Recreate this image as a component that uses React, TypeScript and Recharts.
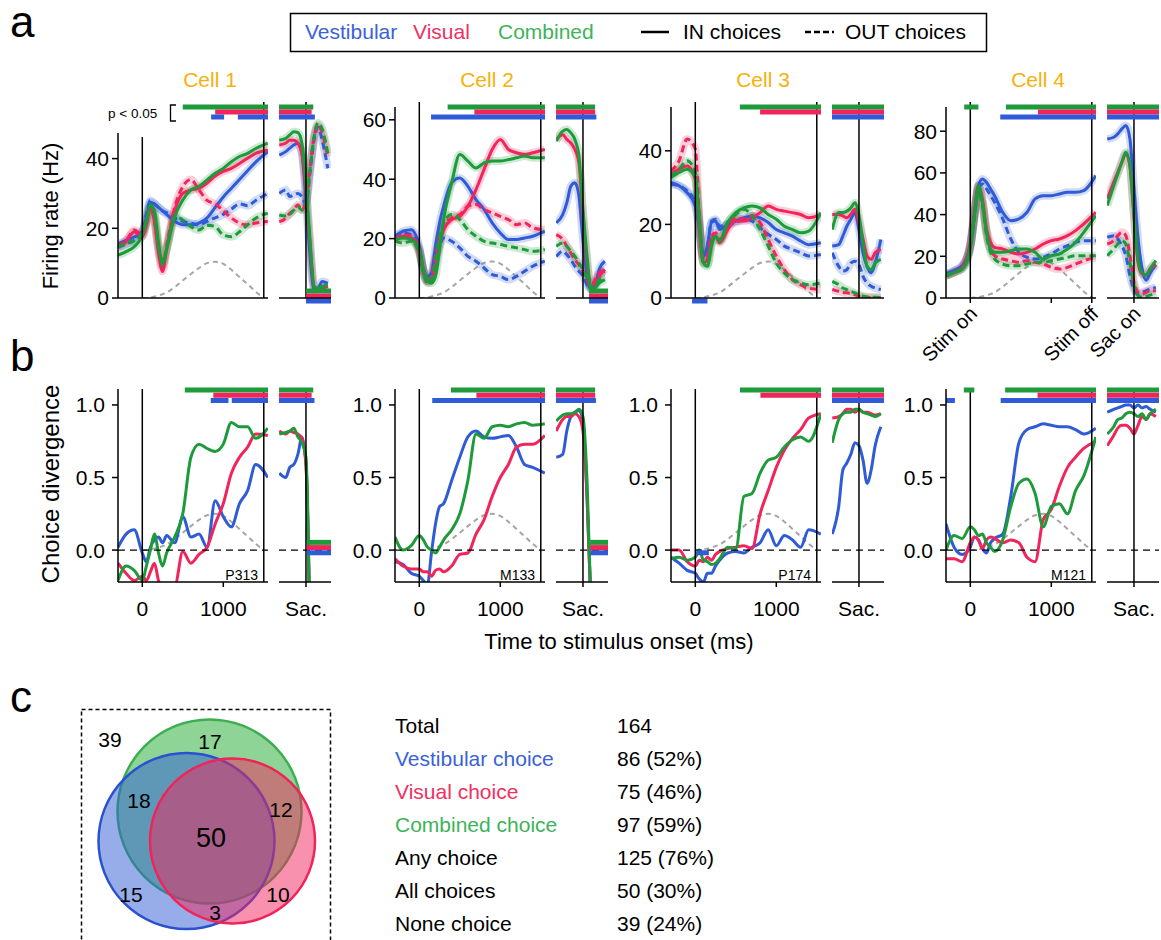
import React from 'react';
import { LineChart, Line, XAxis, YAxis, ReferenceLine, ReferenceDot, ComposedChart } from 'recharts';

const FONT = "'Liberation Sans', Arial, Helvetica, sans-serif";
const BLUE = '#2F5BD6';
const RED = '#F1245B';
const GREEN = '#1D9A3A';
const GRAY = '#A6A6A6';
const ORANGE = '#F6B10A';
const LEG_BLUE = '#3A62D8';
const LEG_RED = '#F0305F';
const LEG_GREEN = '#3DB35A';

// time grids (ms)
const stimT = [-300, -200, -100, 0, 50, 100, 150, 200, 250, 300, 400, 500, 600, 700, 800, 900, 1000, 1100, 1200, 1300, 1400, 1550];
const sacT = [-330, -250, -200, -150, -100, -50, 0, 50, 100, 150, 200, 270];
const velT = [0, 100, 200, 300, 400, 500, 600, 700, 800, 900, 1000, 1100, 1200, 1300, 1400, 1500];

// stimulus velocity profile (gray dashed), per cell in Hz and for panel b
const a1Vel = [0, 0.2, 0.7, 1.6, 3.1, 5, 6.9, 8.6, 10, 10.4, 9.8, 8.1, 6, 4, 1.8, 0];
const a2Vel = [0, 0.2, 0.9, 1.8, 3.7, 5.9, 8.1, 10.2, 11.8, 12.3, 11.6, 9.6, 7.1, 4.7, 2.1, 0];
const a3Vel = [0, 0.2, 0.7, 1.5, 3, 4.8, 6.5, 8.2, 9.5, 9.9, 9.3, 7.7, 5.7, 3.8, 1.7, 0];
const a4Vel = [0, 0.4, 1.3, 2.7, 5.4, 8.6, 11.9, 14.9, 17.3, 18, 16.9, 14, 10.4, 6.8, 3.1, 0];
const bVel = [0, 0.005, 0.018, 0.038, 0.075, 0.12, 0.165, 0.208, 0.24, 0.25, 0.235, 0.195, 0.145, 0.095, 0.043, 0];

// ---- panel a, cell 1 (firing rate, Hz)
const a1StimVesIn = [15.5, 16.5, 17.5, 19, 23, 27.5, 27, 26, 25, 24, 22, 21, 21, 21.5, 23, 26, 29, 31.5, 34, 36.5, 39, 42];
const a1StimVesOut = [14.5, 15.5, 16.5, 19, 24, 28, 27, 26, 25, 24.5, 23, 22, 21.5, 21, 22, 23, 24, 25.5, 27, 26.5, 28, 30];
const a1StimVisIn = [14.7, 16.2, 19, 17.6, 21, 26, 22, 13, 7.6, 14, 25, 30, 31, 31.5, 33, 35, 36.3, 37.2, 38.6, 40.1, 41.5, 42.5];
const a1StimVisOut = [15, 16.5, 19.5, 18, 21.5, 26, 22, 14, 9, 15, 26, 32, 34, 31, 28, 27, 25, 23, 21.5, 21, 21.5, 22];
const a1StimComIn = [12.3, 13.3, 14.7, 18, 22, 26.5, 25, 16, 9.5, 14, 23.3, 28.1, 31, 32, 33.9, 35.8, 37.2, 39.1, 40.6, 41.5, 42.9, 44.4];
const a1StimComOut = [14.7, 15.7, 16.6, 18.6, 22, 26.7, 24, 15, 10.9, 14, 23.3, 22.4, 20.5, 19.5, 20.9, 20.5, 18.1, 17.6, 19, 21, 22.9, 24.3];
const a1SacVesIn = [41, 42, 43, 43.9, 44.4, 41.5, 28, 11.9, 2.3, 2.8, 4.7, 4.2];
const a1SacVesOut = [30, 31, 29.1, 29.6, 30, 29.1, 27, 36, 45.3, 49, 45.3, 37.2];
const a1SacVisIn = [43.9, 44.4, 45.3, 45.3, 44.4, 41.5, 31, 15.7, 3.3, 2.5, 2.8, 3.3];
const a1SacVisOut = [21.9, 22.9, 24.3, 25.3, 26.7, 25.3, 28, 37.5, 46.3, 49.6, 47.3, 40.5];
const a1SacComIn = [45.3, 45.8, 46.8, 47.7, 47.5, 44.4, 32.9, 16.6, 3.3, 2.8, 3.3, 3.8];
const a1SacComOut = [23.8, 23.5, 24, 25.2, 26.2, 25.2, 27, 37, 46.3, 50.2, 48.5, 41.5];

// ---- panel a, cell 2
const a2StimVesIn = [20.8, 22.5, 23, 17.4, 9.6, 7.3, 8.4, 17.4, 25.3, 30.9, 38.8, 40.4, 37.6, 33.1, 29.8, 25.3, 21.9, 19.7, 19.7, 20.2, 20.8, 22.5];
const a2StimVesOut = [20.2, 21.9, 21.3, 16.3, 9, 5.6, 7.3, 12.9, 17.4, 20.2, 19.1, 16.9, 14, 12.4, 10.1, 7.9, 7.3, 6.2, 7.3, 9, 10.7, 12.4];
const a2StimVisIn = [19.1, 20.8, 20.2, 15.2, 9, 5.6, 6.2, 10.7, 18.5, 23, 26.4, 27.5, 30.9, 36.5, 43.3, 50, 53.4, 50, 48.9, 48.3, 48.9, 50];
const a2StimVisOut = [19.7, 21.3, 20.8, 16.3, 9.6, 5.6, 7.3, 14, 20.8, 24.2, 27, 28.1, 30.9, 31.5, 29.8, 28.7, 27.5, 26.4, 24.7, 25.3, 23.6, 23];
const a2StimComIn = [19.7, 20.2, 19.7, 16.3, 9.6, 6.2, 5, 7.3, 16.3, 26.4, 38.8, 48.3, 46.1, 43.8, 45.5, 46.1, 46.1, 46.6, 47.2, 47.8, 47.2, 47.2];
const a2StimComOut = [19.1, 18.5, 19.1, 15.2, 8.4, 5, 6.2, 12.9, 20.8, 25.3, 28.1, 26.4, 23, 20.8, 19.1, 18.5, 18, 17.4, 16.9, 16.3, 15.7, 16.3];
const a2SacVesIn = [25.3, 28.1, 32, 37.6, 38.8, 34.3, 19.7, 7.3, 2.8, 3.9, 9.6, 12.4];
const a2SacVesOut = [14, 15.7, 14.6, 12.9, 10.7, 9, 7.3, 4.5, 3.4, 5, 7.9, 9];
const a2SacVisIn = [53.4, 55, 53.4, 52.2, 50, 45.5, 27.5, 11.8, 3.9, 5, 7.3, 9.6];
const a2SacVisOut = [21.3, 19.7, 17.4, 15.2, 12.9, 11.2, 9, 6.2, 3.9, 6.2, 8.4, 9.6];
const a2SacComIn = [52.8, 56.2, 56.7, 55.6, 53.4, 47.8, 29.8, 14, 2.8, 3.4, 5, 6.2];
const a2SacComOut = [17.4, 18.5, 17.4, 15.7, 14, 11.8, 9.6, 6.7, 3.9, 4.5, 6.2, 7.3];

// ---- panel a, cell 3
const a3StimVesIn = [31.4, 30.5, 28.6, 25, 18.6, 11.4, 14.1, 20.5, 20.9, 18.6, 20, 20.9, 21.8, 22.3, 21.8, 20.5, 18.6, 17.7, 16.8, 15.5, 14.5, 15];
const a3StimVesOut = [30.9, 30.5, 29.1, 25.9, 19.5, 11.4, 14.1, 20.9, 21.4, 19.5, 20, 20.5, 21.4, 20.9, 19.1, 17.3, 15.9, 14.1, 13.2, 12.3, 11.4, 11.8];
const a3StimVisIn = [33.6, 35, 35.9, 32.3, 18.6, 9.5, 10.5, 15.9, 16.8, 15, 18.6, 20.9, 20.9, 21.8, 23.2, 25, 24.1, 23.6, 23.2, 22.7, 21.8, 22.7];
const a3StimVisOut = [34.5, 37.3, 43.2, 40.5, 22.3, 10.5, 11.4, 16.8, 17.7, 15.9, 19.5, 21.8, 21.4, 22.3, 20.5, 15.9, 11.4, 7.7, 5, 3.6, 2.7, 2.3];
const a3StimComIn = [32.7, 34.1, 35, 32.7, 20.5, 9.5, 8.6, 14.1, 16.8, 15.5, 20.5, 23.2, 24.5, 25, 24.5, 22.7, 21.4, 19.5, 18.6, 17.7, 18.2, 23.2];
const a3StimComOut = [33.2, 35, 37.3, 34.1, 20.5, 9.5, 9.1, 15, 16.8, 15.5, 20.5, 22.7, 24.1, 22.3, 18.6, 14.1, 9.5, 6.8, 5, 4.1, 3.6, 4.1];
const a3SacVesIn = [14.1, 14.5, 16.8, 19.5, 21.4, 23.2, 18.6, 12.3, 8.6, 6.8, 9.5, 15.9];
const a3SacVesOut = [12.3, 8.6, 7.3, 7.7, 9.5, 10, 9.1, 5.9, 4.1, 3.2, 2.7, 2.3];
const a3SacVisIn = [22.7, 22.7, 22.3, 21.8, 22.7, 24.1, 20.5, 15.9, 11.4, 10.5, 12.3, 13.2];
const a3SacVisOut = [2.3, 1.8, 1.5, 1.4, 1.2, 0.9, 0.5, 0.3, 0.1, 0.1, 0.1, 0.1];
const a3SacComIn = [18.6, 23.2, 23.2, 23.6, 24.5, 25.9, 22.3, 15, 8.6, 7.7, 9.5, 10.5];
const a3SacComOut = [4.5, 3.6, 2.7, 2.3, 1.8, 1.4, 0.9, 0.5, 0.3, 0.2, 0.2, 0.1];

// ---- panel a, cell 4
const a4StimVesIn = [11.5, 13.1, 15.5, 25, 39.5, 53.9, 57.1, 55.5, 52.3, 49.1, 41.1, 37.1, 37.9, 41.1, 47.5, 49.1, 49.1, 49.9, 50.7, 50.7, 51.5, 58.7];
const a4StimVesOut = [11.5, 13.1, 15.5, 25, 39.5, 53.1, 54.7, 52.3, 49.1, 45.9, 37.9, 28.3, 21.9, 19.5, 18.7, 19.5, 21.1, 23.5, 25.1, 26.7, 27.5, 27.5];
const a4StimVisIn = [10.7, 12.3, 14.7, 26.7, 41.1, 53.9, 47.5, 33.1, 26.7, 24.3, 23.5, 21.9, 21.1, 21.9, 23.5, 25.9, 27.5, 28.3, 29.9, 32.3, 35.5, 41.1];
const a4StimVisOut = [10.7, 12.3, 14.7, 25, 39.5, 52.3, 45.9, 31.5, 23.5, 20.3, 18.7, 17.9, 17.1, 17.9, 17.1, 16.3, 14.7, 13.9, 14.7, 16.3, 17.9, 19.5];
const a4StimComIn = [10.7, 12.3, 13.9, 25, 39.5, 53.9, 45.9, 31.5, 23.5, 21.9, 21.9, 22.7, 23.5, 23.5, 21.9, 18.7, 20.3, 21.1, 23.5, 26.7, 31.5, 39.5];
const a4StimComOut = [10.7, 12.3, 13.9, 23.5, 38, 50.7, 44.3, 29.9, 21.9, 18.7, 16.3, 15.5, 15.5, 16.3, 17.1, 17.1, 17.9, 18.7, 19.5, 20.3, 20.3, 20.3];
const a4SacVesIn = [76.3, 77.1, 78.7, 81.1, 82.7, 76.3, 52.3, 28.3, 14, 8.5, 12, 16];
const a4SacVesOut = [29.1, 29.9, 28.3, 25.1, 20.3, 10.7, 4.3, 1.9, 2.7, 3.5, 4.3, 5.1];
const a4SacVisIn = [47.5, 55.5, 60.3, 65.1, 69.1, 63.5, 39.5, 17.1, 11.5, 11, 14, 16];
const a4SacVisOut = [25.9, 27.5, 29.9, 31.5, 29.9, 20.3, 7.5, 2.7, 1.9, 2.7, 3.5, 3.5];
const a4SacComIn = [44.3, 53.9, 59.5, 65.1, 69.9, 63.5, 39.5, 18.7, 12, 11, 14, 17.9];
const a4SacComOut = [20.3, 23.5, 25.9, 27.5, 25.9, 17.1, 5.9, 1.1, 0.3, 0.8, 1.4, 2.4];

// ---- panel b (choice divergence)
const b1Ves = [0.02, 0.11, 0.14, -0.02, -0.08, 0.02, 0.07, 0.09, 0.05, 0.1, 0.05, 0.23, 0.09, 0.11, 0.02, 0.34, 0.23, 0.16, 0.32, 0.41, 0.59, 0.5];
const b1Vis = [-0.09, -0.16, -0.21, -0.18, -0.21, -0.15, -0.09, -0.21, -0.25, -0.25, -0.25, -0.01, -0.09, -0.03, 0.02, 0.18, 0.32, 0.53, 0.64, 0.71, 0.8, 0.79];
const b1Com = [-0.21, -0.11, -0.14, -0.21, -0.11, 0, 0.11, -0.02, -0.11, -0.02, 0.09, 0.25, 0.64, 0.73, 0.7, 0.68, 0.73, 0.88, 0.85, 0.85, 0.77, 0.84];
const b1SacVes = [0.53, 0.5, 0.57, 0.59, 0.66, 0.78, 0.6, -0.6, null, null, null, null];
const b1SacVis = [0.82, 0.8, 0.82, 0.81, 0.8, 0.77, 0.58, -0.6, null, null, null, null];
const b1SacCom = [0.8, 0.81, 0.82, 0.84, 0.78, 0.74, 0.64, -0.6, null, null, null, null];

const b2Ves = [-0.08, -0.1, -0.16, -0.18, -0.21, -0.24, -0.02, 0.18, 0.3, 0.32, 0.48, 0.64, 0.78, 0.82, 0.78, 0.77, 0.78, 0.79, 0.71, 0.59, 0.57, 0.53];
const b2Vis = [-0.06, -0.11, -0.13, -0.13, -0.15, -0.15, -0.18, -0.14, -0.13, -0.15, -0.11, -0.03, -0.02, 0.11, 0.21, 0.37, 0.5, 0.59, 0.71, 0.73, 0.73, 0.79];
const b2Com = [0.09, 0, 0.03, 0.1, 0.07, 0.02, 0, -0.02, 0.02, 0.07, 0.14, 0.25, 0.48, 0.8, 0.77, 0.85, 0.86, 0.85, 0.87, 0.88, 0.86, 0.87];
const b2SacVes = [0.64, 0.66, 0.82, 0.92, 0.95, 0.96, 0.89, 0.37, -0.4, null, null, null];
const b2SacVis = [0.82, 0.9, 0.92, 0.92, 0.94, 0.92, 0.82, 0.37, -0.4, null, null, null];
const b2SacCom = [0.89, 0.93, 0.94, 0.94, 0.95, 0.97, 0.92, 0.48, -0.4, null, null, null];

const b3Ves = [-0.05, -0.09, -0.14, -0.16, -0.2, -0.22, -0.16, -0.16, -0.11, -0.07, -0.02, -0.01, -0.02, 0.02, 0.05, 0.14, 0.03, 0.1, 0.07, 0.02, 0.14, 0.11];
const b3Vis = [0, 0, -0.08, -0.11, -0.07, -0.08, -0.05, -0.07, -0.03, -0.01, 0.01, 0.02, 0.03, 0.01, 0.25, 0.41, 0.57, 0.69, 0.77, 0.83, 0.91, 0.94];
const b3Com = [-0.06, -0.05, -0.07, -0.05, 0, -0.07, -0.08, -0.1, -0.09, -0.06, 0.02, 0.01, 0.37, 0.39, 0.53, 0.62, 0.64, 0.71, 0.76, 0.78, 0.75, 0.94];
const b3SacVes = [0.11, 0.3, 0.55, 0.6, 0.66, 0.74, 0.72, 0.62, 0.46, 0.55, 0.72, 0.85];
const b3SacVis = [0.91, 0.92, 0.94, 0.97, 0.97, 0.95, 0.97, 0.95, 0.95, 0.94, 0.93, 0.94];
const b3SacCom = [0.74, 0.9, 0.94, 0.95, 0.95, 0.97, 0.97, 0.95, 0.94, 0.93, 0.92, 0.94];

const b4Ves = [0.18, 0.02, -0.03, 0.02, 0.09, 0.07, 0.01, -0.02, 0.05, 0.08, 0.11, 0.37, 0.74, 0.83, 0.85, 0.87, 0.86, 0.85, 0.85, 0.83, 0.8, 0.84];
const b4Vis = [-0.06, -0.06, -0.08, 0.05, 0.09, 0.07, 0.01, 0.07, 0.09, 0.08, 0.05, 0.07, 0.05, -0.05, -0.08, 0.21, 0.28, 0.44, 0.57, 0.64, 0.7, 0.75];
const b4Com = [0, 0.1, 0.08, 0.16, 0.14, 0.1, 0.11, 0.05, 0.02, -0.01, 0.07, 0.3, 0.46, 0.49, 0.39, 0.16, 0.3, 0.32, 0.25, 0.41, 0.51, 0.78];
const b4SacVes = [0.95, 0.97, 0.98, 0.99, 1, 1, 0.98, 1, 0.98, 0.99, 0.97, 0.95];
const b4SacVis = [0.72, 0.79, 0.84, 0.86, 0.86, 0.84, 0.8, 0.86, 0.92, 0.9, 0.94, 0.92];
const b4SacCom = [0.8, 0.85, 0.9, 0.91, 0.94, 0.95, 0.94, 0.92, 0.94, 0.9, 0.94, 0.97];

// significance bars: [condition, from ms, to ms]
type Key = 'com' | 'vis' | 'ves';
type Sig = [Key, number, number];
const a1StimSig: Sig[] = [['com', 500, 1552], ['vis', 900, 1552], ['ves', 850, 1010], ['ves', 1180, 1552]];
const a1SacSig: Sig[] = [['com', -333, 90], ['vis', -333, 70], ['ves', -333, 110]];
const a1SacLow: Sig[] = [['com', 0, 309], ['vis', 0, 309], ['ves', 0, 309]];
const a2StimSig: Sig[] = [['com', 350, 1552], ['vis', 680, 1552], ['ves', 145, 1552]];
const a2SacSig: Sig[] = [['com', -333, 150], ['vis', -333, 150], ['ves', -333, 165]];
const a2SacLow: Sig[] = [['com', 75, 309], ['vis', 75, 309], ['ves', 75, 309]];
const a3StimSig: Sig[] = [['com', 550, 1552], ['vis', 800, 1552]];
const a3StimLow: Sig[] = [['ves', -40, 150]];
const a3SacSig: Sig[] = [['com', -333, 309], ['vis', -333, 309], ['ves', -333, 309]];
const a4StimSig: Sig[] = [['com', -75, 100], ['com', 440, 1552], ['vis', 835, 1552], ['ves', 370, 1552]];
const a4SacSig: Sig[] = [['com', -333, 309], ['vis', -333, 309], ['ves', -333, 309]];

const b1StimSig: Sig[] = [['com', 525, 1552], ['vis', 877, 1552], ['ves', 845, 1064], ['ves', 1105, 1552]];
const b1SacSig: Sig[] = [['com', -333, 90], ['vis', -333, 70], ['ves', -333, 105]];
const b1SacLow: Sig[] = [['com', 10, 309], ['vis', 10, 309], ['ves', 10, 309]];
const b2StimSig: Sig[] = [['com', 390, 1552], ['vis', 705, 1552], ['ves', 160, 1552]];
const b2SacSig: Sig[] = [['com', -333, 150], ['vis', -333, 150], ['ves', -333, 160]];
const b2SacLow: Sig[] = [['com', 90, 309], ['vis', 90, 309], ['ves', 90, 309]];
const b3StimSig: Sig[] = [['com', 552, 1552], ['vis', 804, 1552]];
const b3StimLow: Sig[] = [['ves', 13, 168]];
const b3SacSig: Sig[] = [['com', -333, 309], ['vis', -333, 309], ['ves', -333, 309]];
const b4StimSig: Sig[] = [['com', -80, 50], ['com', 430, 1552], ['vis', 830, 1552], ['ves', -300, -190], ['ves', 375, 1552]];
const b4SacSig: Sig[] = [['com', -333, 309], ['vis', -333, 309], ['ves', -333, 309]];

const cellNames = ['Cell 1', 'Cell 2', 'Cell 3', 'Cell 4'];
const cellIds = ['P313', 'M133', 'P174', 'M121'];

// panel c
const vennCounts = [39, 17, 18, 12, 50, 15, 10, 3];
const tableLabels = ['Total', 'Vestibular choice', 'Visual choice', 'Combined choice', 'Any choice', 'All choices', 'None choice'];
const tableCounts = [164, 86, 75, 97, 125, 50, 39];
const tablePct = [null, 52, 46, 59, 76, 30, 24];

// ---------------- layout
const COL: Record<Key, string> = { com: GREEN, vis: RED, ves: BLUE };
const LEVEL: Record<Key, number> = { com: 0, vis: 1, ves: 2 };
const CELL_X = [118, 395, 671, 946];
const STIM_W = 150;
const SAC_OFF = 161;
const SAC_W = 52;
const STIM_DOM: [number, number] = [-300, 1552];
const SAC_DOM: [number, number] = [-333, 309];
const A_TOP = 102;
const A_BOT = 298;
const A_SIG = [107, 112, 117];
const A_LOW = [-7, -2, 3];
const B_TOP = 389;
const B_BOT = 582;
const B_DOM: [number, number] = [-0.22, 1.11];
const B_SIG = [390, 395.3, 400.5];
const B_LOW = [-7.7, -2.5, 2.7];

type Pt = { t: number; v: number | null };
const pts = (ts: number[], vs: (number | null)[]): Pt[] => ts.map((t, i) => ({ t, v: vs[i] }));

interface Curve { data: Pt[]; color: string; w: number; op?: number; dash?: string }
interface Seg { x1: number; y1: number; x2: number; y2: number; color: string; w: number; dash?: string }

const aCells = [
  { ppu: 3.485, yTicks: [0, 20, 40], axisTop: 133, onTop: 137, vel: a1Vel,
    stim: { ves: [a1StimVesIn, a1StimVesOut], vis: [a1StimVisIn, a1StimVisOut], com: [a1StimComIn, a1StimComOut] },
    sac: { ves: [a1SacVesIn, a1SacVesOut], vis: [a1SacVisIn, a1SacVisOut], com: [a1SacComIn, a1SacComOut] },
    stimSig: a1StimSig, stimLow: [] as Sig[], sacSig: a1SacSig, sacLow: a1SacLow },
  { ppu: 2.97, yTicks: [0, 20, 40, 60], axisTop: 107, onTop: A_TOP, vel: a2Vel,
    stim: { ves: [a2StimVesIn, a2StimVesOut], vis: [a2StimVisIn, a2StimVisOut], com: [a2StimComIn, a2StimComOut] },
    sac: { ves: [a2SacVesIn, a2SacVesOut], vis: [a2SacVisIn, a2SacVisOut], com: [a2SacComIn, a2SacComOut] },
    stimSig: a2StimSig, stimLow: [] as Sig[], sacSig: a2SacSig, sacLow: a2SacLow },
  { ppu: 3.68, yTicks: [0, 20, 40], axisTop: 107, onTop: A_TOP, vel: a3Vel,
    stim: { ves: [a3StimVesIn, a3StimVesOut], vis: [a3StimVisIn, a3StimVisOut], com: [a3StimComIn, a3StimComOut] },
    sac: { ves: [a3SacVesIn, a3SacVesOut], vis: [a3SacVisIn, a3SacVisOut], com: [a3SacComIn, a3SacComOut] },
    stimSig: a3StimSig, stimLow: a3StimLow, sacSig: a3SacSig, sacLow: [] as Sig[] },
  { ppu: 2.085, yTicks: [0, 20, 40, 60, 80], axisTop: 107, onTop: A_TOP, vel: a4Vel,
    stim: { ves: [a4StimVesIn, a4StimVesOut], vis: [a4StimVisIn, a4StimVisOut], com: [a4StimComIn, a4StimComOut] },
    sac: { ves: [a4SacVesIn, a4SacVesOut], vis: [a4SacVisIn, a4SacVisOut], com: [a4SacComIn, a4SacComOut] },
    stimSig: a4StimSig, stimLow: [] as Sig[], sacSig: a4SacSig, sacLow: [] as Sig[] },
];

const bCells = [
  { stim: { ves: b1Ves, vis: b1Vis, com: b1Com }, sac: { ves: b1SacVes, vis: b1SacVis, com: b1SacCom }, stimSig: b1StimSig, stimLow: [] as Sig[], sacSig: b1SacSig, sacLow: b1SacLow },
  { stim: { ves: b2Ves, vis: b2Vis, com: b2Com }, sac: { ves: b2SacVes, vis: b2SacVis, com: b2SacCom }, stimSig: b2StimSig, stimLow: [] as Sig[], sacSig: b2SacSig, sacLow: b2SacLow },
  { stim: { ves: b3Ves, vis: b3Vis, com: b3Com }, sac: { ves: b3SacVes, vis: b3SacVis, com: b3SacCom }, stimSig: b3StimSig, stimLow: b3StimLow, sacSig: b3SacSig, sacLow: [] as Sig[] },
  { stim: { ves: b4Ves, vis: b4Vis, com: b4Com }, sac: { ves: b4SacVes, vis: b4SacVis, com: b4SacCom }, stimSig: b4StimSig, stimLow: [] as Sig[], sacSig: b4SacSig, sacLow: [] as Sig[] },
];

const KEYS: Key[] = ['ves', 'vis', 'com'];
const line = (x1: number, y1: number, x2: number, y2: number, color = '#000', w = 1.5, dash?: string): Seg => ({ x1, y1, x2, y2, color, w, dash });

const rotTick = (labels: Record<number, string>) => (p: any) => {
  const s = labels[p.payload.value];
  if (!s) return <g />;
  const x = p.x + 8;
  const y = p.y + 10;
  return (
    <text x={x} y={y} textAnchor="end" fontSize={20} fill="#000" transform={`rotate(-45 ${x} ${y})`}>
      {s}
    </text>
  );
};

function Panel(props: {
  left: number; top: number; w: number; h: number;
  xDom: [number, number]; yDom: [number, number];
  xTicks: number[]; xFmt?: (v: number) => string; xTick?: any; xH: number; xMargin: number;
  yTicks?: number[]; yFmt?: (v: number) => string; yLine?: boolean; yMargin?: number;
  curves: Curve[]; segs: Seg[];
}) {
  const { left, top, w, h, xDom, yDom, xTicks, xFmt, xTick, xH, xMargin, yTicks, yFmt, yLine, yMargin, curves, segs } = props;
  const showY = !!yTicks;
  const ML = showY ? 0 : 40;
  const YW = showY ? 62 : 0;
  const axisStyle = { stroke: '#000', strokeWidth: 1.5 };
  return (
    <div style={{ position: 'absolute', left: left - ML - YW, top: top - 10 }}>
      <LineChart width={ML + YW + w + 10} height={10 + h + xH} margin={{ top: 10, right: 10, bottom: 0, left: ML }} style={{ fontFamily: FONT }}>
        <XAxis type="number" dataKey="t" domain={xDom} allowDataOverflow ticks={xTicks} interval={0} height={xH}
          axisLine={axisStyle} tickLine={axisStyle} tickSize={5} tickMargin={xMargin}
          tick={xTick ?? { fontSize: 21, fill: '#000' }} tickFormatter={xFmt} />
        {showY ? (
          <YAxis type="number" domain={yDom} allowDataOverflow ticks={yTicks} interval={0} width={YW}
            axisLine={yLine ? axisStyle : false} tickLine={axisStyle} tickSize={6} tickMargin={yMargin ?? 4}
            tick={{ fontSize: 21, fill: '#000' }} tickFormatter={yFmt} />
        ) : (
          <YAxis hide type="number" domain={yDom} allowDataOverflow />
        )}
        {curves.map((c, i) => (
          <Line key={i} data={c.data} dataKey="v" type="monotone" stroke={c.color} strokeWidth={c.w}
            strokeOpacity={c.op ?? 1} strokeDasharray={c.dash} dot={false} activeDot={false}
            isAnimationActive={false} connectNulls={false} />
        ))}
        {segs.map((s, i) => (
          <ReferenceLine key={'s' + i} segment={[{ x: s.x1, y: s.y1 }, { x: s.x2, y: s.y2 }]}
            stroke={s.color} strokeWidth={s.w} strokeDasharray={s.dash} ifOverflow="visible" />
        ))}
      </LineChart>
    </div>
  );
}

function rateCurves(ts: number[], set: Record<Key, number[][]>, vel?: number[]): Curve[] {
  const out: Curve[] = [];
  if (vel) out.push({ data: pts(velT, vel), color: GRAY, w: 2, dash: '5 4' });
  KEYS.forEach((k) => set[k].forEach((vs) => out.push({ data: pts(ts, vs), color: COL[k], w: 8, op: 0.22 })));
  KEYS.forEach((k) => set[k].forEach((vs, j) => out.push({ data: pts(ts, vs), color: COL[k], w: 3, dash: j === 1 ? '7 4' : undefined })));
  return out;
}

function RateCell({ i }: { i: number }) {
  const c = aCells[i];
  const x0 = CELL_X[i];
  const h = A_BOT - A_TOP;
  const yTop = h / c.ppu;
  const val = (px: number) => (A_BOT - px) / c.ppu;
  const bars = (sig: Sig[], low: Sig[]) => [
    ...sig.map(([k, a, b]) => line(a, val(A_SIG[LEVEL[k]]), b, val(A_SIG[LEVEL[k]]), COL[k], 5)),
    ...low.map(([k, a, b]) => line(a, val(A_BOT + A_LOW[LEVEL[k]]), b, val(A_BOT + A_LOW[LEVEL[k]]), COL[k], 5)),
  ];
  const last = i === 3;
  const stimSegs = [
    line(STIM_DOM[0], 0, STIM_DOM[0], val(c.axisTop)),
    line(0, 0, 0, val(c.onTop)),
    line(1500, 0, 1500, yTop),
    ...bars(c.stimSig, c.stimLow),
  ];
  const sacSegs = [line(0, 0, 0, yTop), ...bars(c.sacSig, c.sacLow)];
  return (
    <>
      <Panel left={x0} top={A_TOP} w={STIM_W} h={h} xDom={STIM_DOM} yDom={[0, yTop]}
        xTicks={last ? [0, 1000, 1500] : [0, 1000]} xFmt={() => ''}
        xTick={last ? rotTick({ 0: 'Stim on', 1500: 'Stim off' }) : false} xH={90} xMargin={2}
        yTicks={c.yTicks} yMargin={3} curves={rateCurves(stimT, c.stim, c.vel)} segs={stimSegs} />
      <Panel left={x0 + SAC_OFF} top={A_TOP} w={SAC_W} h={h} xDom={SAC_DOM} yDom={[0, yTop]}
        xTicks={[0]} xFmt={() => ''} xTick={last ? rotTick({ 0: 'Sac on' }) : false} xH={90} xMargin={2}
        curves={rateCurves(sacT, c.sac)} segs={sacSegs} />
    </>
  );
}

function cdCurves(ts: number[], set: Record<Key, (number | null)[]>, vel?: number[]): Curve[] {
  const out: Curve[] = [];
  if (vel) out.push({ data: pts(velT, vel), color: GRAY, w: 2, dash: '5 4' });
  KEYS.forEach((k) => out.push({ data: pts(ts, set[k]), color: COL[k], w: 3 }));
  return out;
}

function ChoiceCell({ i }: { i: number }) {
  const c = bCells[i];
  const x0 = CELL_X[i];
  const h = B_BOT - B_TOP;
  const ppu = h / (B_DOM[1] - B_DOM[0]);
  const zeroPx = B_BOT + B_DOM[0] * ppu;
  const val = (px: number) => (zeroPx - px) / ppu;
  const bars = (sig: Sig[], low: Sig[]) => [
    ...sig.map(([k, a, b]) => line(a, val(B_SIG[LEVEL[k]]), b, val(B_SIG[LEVEL[k]]), COL[k], 5)),
    ...low.map(([k, a, b]) => line(a, -B_LOW[LEVEL[k]] / ppu, b, -B_LOW[LEVEL[k]] / ppu, COL[k], 5)),
  ];
  const stimSegs = [
    line(STIM_DOM[0], 0, STIM_DOM[1], 0, '#000', 1.3, '7 5'),
    line(0, B_DOM[0], 0, B_DOM[1]),
    line(1500, B_DOM[0], 1500, B_DOM[1]),
    ...bars(c.stimSig, c.stimLow),
  ];
  const sacSegs = [
    line(SAC_DOM[0], 0, SAC_DOM[1], 0, '#000', 1.3, '7 5'),
    line(0, B_DOM[0], 0, B_DOM[1]),
    ...bars(c.sacSig, c.sacLow),
  ];
  return (
    <>
      <Panel left={x0} top={B_TOP} w={STIM_W} h={h} xDom={STIM_DOM} yDom={B_DOM}
        xTicks={[0, 1000]} xFmt={(v) => String(v)} xH={45} xMargin={14}
        yTicks={[0, 0.5, 1]} yFmt={(v) => v.toFixed(1)} yLine yMargin={7}
        curves={cdCurves(stimT, c.stim, bVel)} segs={stimSegs} />
      <Panel left={x0 + SAC_OFF} top={B_TOP} w={SAC_W} h={h} xDom={SAC_DOM} yDom={B_DOM}
        xTicks={[0]} xFmt={() => 'Sac.'} xH={45} xMargin={14}
        curves={cdCurves(sacT, c.sac)} segs={sacSegs} />
    </>
  );
}

// venn geometry (page px)
const VENN = [
  { cx: 209.5, cy: 811.5, r: 92, fill: '#3DB54B', op: 0.58, stroke: '#3DAE50' },
  { cx: 186.5, cy: 841, r: 88, fill: '#2F5BD6', op: 0.5, stroke: '#2B50D0' },
  { cx: 232.5, cy: 841, r: 82.5, fill: '#F0245C', op: 0.5, stroke: '#F0245A' },
];
const VENN_TXT = [
  { x: 110, y: 747, s: 21 }, { x: 210, y: 749, s: 21 }, { x: 139, y: 808, s: 21 }, { x: 281, y: 817, s: 21 },
  { x: 211, y: 847, s: 27 }, { x: 131, y: 902, s: 21 }, { x: 278, y: 902, s: 21 }, { x: 215, y: 920, s: 21 },
];
const TABLE_COL = ['#000', LEG_BLUE, LEG_RED, LEG_GREEN, '#000', '#000', '#000'];

function Venn() {
  return (
    <div style={{ position: 'absolute', left: 70, top: 700 }}>
      <ComposedChart width={280} height={240} margin={{ top: 0, right: 0, bottom: 0, left: 0 }}>
        <XAxis hide type="number" dataKey="x" domain={[70, 350]} allowDataOverflow />
        <YAxis hide type="number" domain={[700, 940]} reversed allowDataOverflow />
        {VENN.map((v, i) => (
          <ReferenceDot key={i} x={v.cx} y={v.cy} r={v.r} fill={v.fill} fillOpacity={v.op}
            stroke={v.stroke} strokeWidth={2.5} ifOverflow="visible" />
        ))}
      </ComposedChart>
    </div>
  );
}

export default function App() {
  return (
    <div style={{ position: 'fixed', left: 0, top: 0, width: 1161, height: 940, overflow: 'hidden', background: '#fff', fontFamily: FONT }}>
      {[0, 1, 2, 3].map((i) => <RateCell key={'a' + i} i={i} />)}
      {[0, 1, 2, 3].map((i) => <ChoiceCell key={'b' + i} i={i} />)}
      <Venn />
      <svg width={1161} height={940} style={{ position: 'absolute', left: 0, top: 0, pointerEvents: 'none' }} fontFamily={FONT}>
        <text x={10} y={37} fontSize={44}>a</text>
        <text x={10} y={371} fontSize={44}>b</text>
        <text x={10} y={712} fontSize={44}>c</text>

        <rect x={290.5} y={13.5} width={696} height={38} fill="none" stroke="#000" strokeWidth={1.5} />
        <text x={305} y={39} fontSize={21} fill={LEG_BLUE}>Vestibular</text>
        <text x={413} y={39} fontSize={21} fill={LEG_RED}>Visual</text>
        <text x={498} y={39} fontSize={21} fill={LEG_GREEN}>Combined</text>
        <line x1={641} y1={32} x2={669} y2={32} stroke="#000" strokeWidth={2.5} />
        <text x={683} y={39} fontSize={21}>IN choices</text>
        <line x1={805} y1={32} x2={834} y2={32} stroke="#000" strokeWidth={2.5} strokeDasharray="6 3" />
        <text x={845} y={39} fontSize={21}>OUT choices</text>

        {cellNames.map((n, i) => (
          <text key={n} x={CELL_X[i] + 92} y={87} fontSize={21} fill={ORANGE} textAnchor="middle">{n}</text>
        ))}
        {cellIds.map((n, i) => (
          <text key={n} x={CELL_X[i] + 140} y={580} fontSize={14} textAnchor="end">{n}</text>
        ))}

        <text x={108} y={118} fontSize={13.5}>p &lt; 0.05</text>
        <path d="M 176 105 H 170.5 V 121 H 176" fill="none" stroke="#000" strokeWidth={1.3} />

        <text x={58} y={216} fontSize={22} textAnchor="middle" transform="rotate(-90 58 216)">Firing rate (Hz)</text>
        <text x={59} y={484} fontSize={24} textAnchor="middle" transform="rotate(-90 59 484)">Choice divergence</text>
        <text x={619} y={649} fontSize={22} textAnchor="middle">Time to stimulus onset (ms)</text>

        <rect x={81.5} y={709.5} width={249} height={300} fill="none" stroke="#000" strokeWidth={1.5} strokeDasharray="4 3" />
        {vennCounts.map((n, i) => (
          <text key={i} x={VENN_TXT[i].x} y={VENN_TXT[i].y} fontSize={VENN_TXT[i].s} textAnchor="middle">{n}</text>
        ))}
        {tableLabels.map((l, i) => (
          <g key={l}>
            <text x={395} y={733 + 33 * i} fontSize={21} fill={TABLE_COL[i]}>{l}</text>
            <text x={617} y={733 + 33 * i} fontSize={21}>{tablePct[i] == null ? String(tableCounts[i]) : `${tableCounts[i]} (${tablePct[i]}%)`}</text>
          </g>
        ))}
      </svg>
    </div>
  );
}
